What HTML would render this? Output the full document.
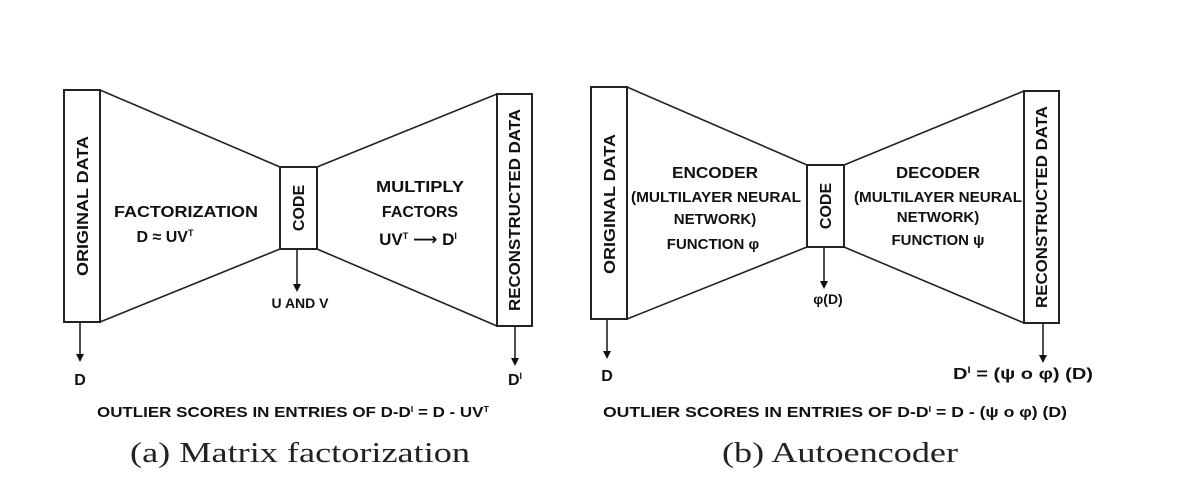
<!DOCTYPE html>
<html><head><meta charset="utf-8"><style>
html,body{margin:0;padding:0;background:#fff;}
svg{display:block}
.b{font-family:"Liberation Sans","DejaVu Sans",sans-serif;font-weight:bold;fill:#111;}
.s{font-family:"Liberation Serif",serif;fill:#222;}
</style></head><body>
<svg width="1190" height="504" viewBox="0 0 1190 504" xmlns="http://www.w3.org/2000/svg">
<g stroke="#222" stroke-width="1.6" fill="none">
<rect x="64" y="90" width="36" height="232" stroke-width="2"/>
<rect x="280" y="167" width="37" height="82" stroke-width="2"/>
<rect x="497" y="94" width="35" height="232" stroke-width="2"/>
<line x1="100" y1="90" x2="280" y2="167"/><line x1="100" y1="322" x2="280" y2="249"/>
<line x1="317" y1="167" x2="497" y2="94"/><line x1="317" y1="249" x2="497" y2="326"/>
<line x1="80" y1="322" x2="80" y2="354"/>
<line x1="297" y1="249" x2="297" y2="284"/>
<line x1="515" y1="326" x2="515" y2="358"/>
<rect x="591" y="87" width="36" height="232" stroke-width="2"/>
<rect x="807" y="165" width="37" height="82" stroke-width="2"/>
<rect x="1024" y="91" width="35" height="232" stroke-width="2"/>
<line x1="627" y1="87" x2="807" y2="165"/><line x1="627" y1="319" x2="807" y2="247"/>
<line x1="844" y1="165" x2="1024" y2="91"/><line x1="844" y1="247" x2="1024" y2="323"/>
<line x1="607" y1="319" x2="607" y2="351"/>
<line x1="824" y1="247" x2="824" y2="281"/>
<line x1="1043" y1="323" x2="1043" y2="355"/>
</g>
<g fill="#111">
<polygon points="76,354 84,354 80,362"/>
<polygon points="293,284 301,284 297,292"/>
<polygon points="511,358 519,358 515,366"/>
<polygon points="603,351 611,351 607,359"/>
<polygon points="820,281 828,281 824,289"/>
<polygon points="1039,355 1047,355 1043,363"/>
</g>
<g class="b" font-size="16" text-anchor="middle">
<text transform="translate(88,206) rotate(-90)" textLength="140" lengthAdjust="spacingAndGlyphs">ORIGINAL DATA</text>
<text transform="translate(304,208) rotate(-90)">CODE</text>
<text transform="translate(520,210) rotate(-90)" textLength="202" lengthAdjust="spacingAndGlyphs">RECONSTRUCTED DATA</text>
<text x="186" y="217" textLength="144" lengthAdjust="spacingAndGlyphs">FACTORIZATION</text>
<text x="165" y="242">D ≈ UV<tspan font-size="9" dy="-6">T</tspan></text>
<text x="420" y="192" textLength="88" lengthAdjust="spacingAndGlyphs">MULTIPLY</text>
<text x="420" y="217">FACTORS</text>
<text x="418" y="245" font-size="17">UV<tspan font-size="9" dy="-6">T</tspan><tspan dy="6"> ⟶ D</tspan><tspan font-size="9" dy="-6">I</tspan></text>
<text x="300" y="308" font-size="14">U AND V</text>
<text x="80" y="385">D</text>
<text x="515" y="385">D<tspan font-size="9" dy="-6">I</tspan></text>
<text x="293" y="417" font-size="15" textLength="392" lengthAdjust="spacingAndGlyphs">OUTLIER SCORES IN ENTRIES OF D-D<tspan font-size="8" dy="-5">I</tspan><tspan dy="5"> = D - UV</tspan><tspan font-size="8" dy="-5">T</tspan></text>

<text transform="translate(615,204) rotate(-90)" textLength="140" lengthAdjust="spacingAndGlyphs">ORIGINAL DATA</text>
<text transform="translate(831,206) rotate(-90)">CODE</text>
<text transform="translate(1047,207) rotate(-90)" textLength="202" lengthAdjust="spacingAndGlyphs">RECONSTRUCTED DATA</text>
<text x="715" y="178" textLength="86" lengthAdjust="spacingAndGlyphs">ENCODER</text>
<text x="716" y="202" font-size="15" textLength="170" lengthAdjust="spacingAndGlyphs">(MULTILAYER NEURAL</text>
<text x="715" y="224" font-size="15">NETWORK)</text>
<text x="713" y="249" font-size="15">FUNCTION  φ</text>
<text x="938" y="178" textLength="84" lengthAdjust="spacingAndGlyphs">DECODER</text>
<text x="938" y="202" font-size="15" textLength="168" lengthAdjust="spacingAndGlyphs">(MULTILAYER NEURAL</text>
<text x="938" y="222" font-size="15">NETWORK)</text>
<text x="938" y="245" font-size="15">FUNCTION ψ</text>
<text x="828" y="304" font-size="14">φ(D)</text>
<text x="607" y="381">D</text>
<text x="1023" y="379" textLength="140" lengthAdjust="spacingAndGlyphs">D<tspan font-size="9" dy="-6">I</tspan><tspan dy="6"> = (ψ o φ) (D)</tspan></text>
<text x="835" y="417" font-size="15" textLength="464" lengthAdjust="spacingAndGlyphs">OUTLIER SCORES IN ENTRIES OF D-D<tspan font-size="8" dy="-5">I</tspan><tspan dy="5"> = D - (ψ o φ) (D)</tspan></text>
</g>
<text class="s" x="300" y="462" font-size="28" text-anchor="middle" textLength="340" lengthAdjust="spacingAndGlyphs">(a) Matrix factorization</text>
<text class="s" x="840" y="462" font-size="28" text-anchor="middle" textLength="236" lengthAdjust="spacingAndGlyphs">(b) Autoencoder</text>
</svg>
</body></html>
